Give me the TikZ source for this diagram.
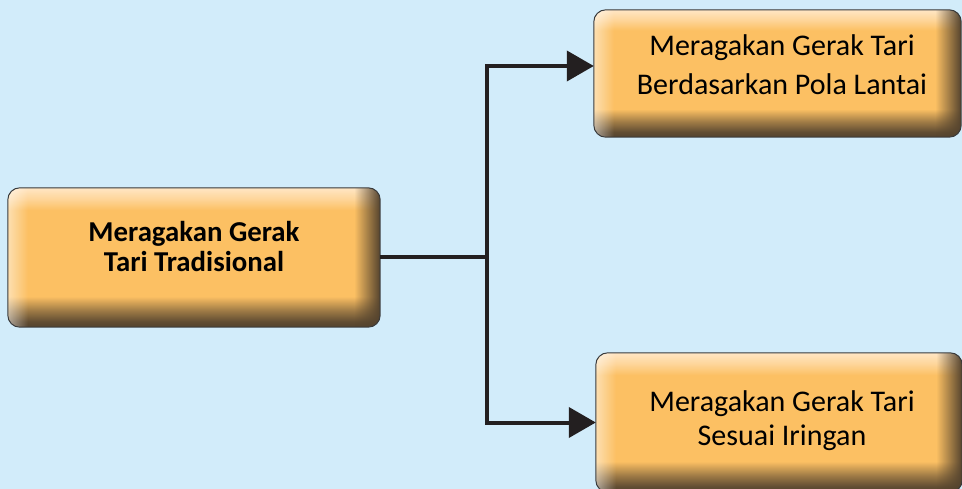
\documentclass[tikz,border=0pt]{standalone}
\usepackage{fontspec}
\setmainfont{Carlito}
\usetikzlibrary{arrows.meta,fadings}
\definecolor{bg}{HTML}{D2ECFA}
\definecolor{boxor}{HTML}{FCC063}
\definecolor{boxlt}{HTML}{FFE6C4}
\definecolor{boxdk}{HTML}{54432E}
\definecolor{boxline}{HTML}{3A3A3A}
\definecolor{linec}{HTML}{231F20}
\pgfdeclareverticalshading{boxshade}{100bp}{color(0bp)=(boxdk); color(25bp)=(boxdk); color(27bp)=(boxdk!92!boxor); color(31bp)=(boxdk!55!boxor); color(36bp)=(boxor); color(67bp)=(boxor); color(71bp)=(boxlt!55!boxor); color(75bp)=(boxlt); color(100bp)=(boxlt)}
\tikzfading[name=fadeR, left color=transparent!100, right color=transparent!0]
\tikzfading[name=fadeL, left color=transparent!0, right color=transparent!100]
\tikzset{
  boxnode/.style={shape=rectangle, rounded corners=12pt, shading=boxshade, inner sep=0pt},
  lbl/.style={align=center, text=black, inner sep=0pt},
  conn/.style={draw=linec, line width=4pt},
  arr/.style={conn, -{Triangle[length=27pt,width=30pt]}},
}
\begin{document}
\begin{tikzpicture}[x=1pt,y=-1pt]
\fill[bg] (0,0) rectangle (962,489);
\useasboundingbox (0,0) rectangle (962,489);
\clip (0,0) rectangle (962,489);
\node[boxnode, minimum width=372pt, minimum height=139pt] (L) at (194,257.5) {};
\node[boxnode, minimum width=367pt, minimum height=127pt] (TR) at (777.5,73.5) {};
\node[boxnode, minimum width=366pt, minimum height=139pt] (BR) at (779,422.5) {};
\foreach \n in {L,TR,BR} {
  \begin{scope}
    \clip[rounded corners=12pt] (\n.south west) rectangle (\n.north east);
    \fill[boxdk, path fading=fadeR] ([xshift=-26pt]\n.south east) rectangle (\n.north east);
    \fill[white, path fading=fadeL, opacity=0.5] (\n.south west) rectangle ([xshift=20pt]\n.north west);
  \end{scope}
  \draw[boxline, line width=1pt, rounded corners=12pt] (\n.south west) rectangle (\n.north east);
}
\node[lbl, font=\bfseries\fontsize{28.8}{30}\selectfont] (Lt) at (194,247) {Meragakan Gerak\\Tari Tradisional};
\node[lbl, font=\fontsize{30}{39}\selectfont] (TRt) at (782,64.5) {Meragakan Gerak Tari\\Berdasarkan Pola Lantai};
\node[lbl, font=\fontsize{30}{34}\selectfont] (BRt) at (782,421) {Meragakan Gerak Tari\\Sesuai Iringan};
\draw[conn] (L.east) -- ++(107,0) coordinate (j);
\draw[arr] (j) |- ([yshift=7.5pt]TR.west);
\draw[arr] (j) |- ([xshift=0pt]BR.west);
\end{tikzpicture}
\end{document}
